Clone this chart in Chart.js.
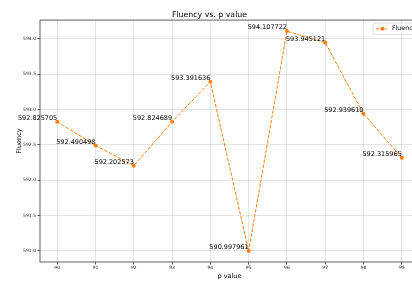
<!DOCTYPE html>
<html>
<head>
<meta charset="utf-8">
<script src="https://cdn.jsdelivr.net/npm/chart.js@4/dist/chart.umd.min.js"></script>
<style>
  html, body { margin: 0; padding: 0; background: #fff; overflow: hidden; }
  #wrap { width: 412px; height: 283px; overflow: hidden; position: relative; }
  canvas { display: block; }
</style>
</head>
<body>
<div id="wrap"><canvas id="fluencyChart" width="459" height="283" style="width:459px;height:283px"></canvas></div>
<script>
// Chart data
const pValues = [90, 91, 92, 93, 94, 95, 96, 97, 98, 99];
const fluency = [592.825705, 592.490498, 592.202573, 592.824689, 593.391636,
                 590.997961, 594.107722, 593.945121, 592.939610, 592.315965];
const xTickValues = [90, 91, 92, 93, 94, 95, 96, 97, 98, 99];
const yTickValues = [591.0, 591.5, 592.0, 592.5, 593.0, 593.5, 594.0];
const seriesName = "Fluency";

const ORANGE = '#ff7f0e';
const FONT = "'DejaVu Sans', sans-serif";

// matplotlib-style 5% margins
const xSpan = Math.max(...pValues) - Math.min(...pValues);
const ySpan = Math.max(...fluency) - Math.min(...fluency);

// Frame around the plot area (all four spines)
const framePlugin = {
    id: 'frame',
    afterDatasetsDraw(chart) {
        const { ctx, chartArea: a } = chart;
        ctx.save();
        ctx.strokeStyle = '#3a3a3a';
        ctx.lineWidth = 0.8;
        ctx.strokeRect(a.left, a.top, a.right - a.left, a.bottom - a.top);
        ctx.restore();
    }
};

// Value labels next to each point
const valueLabels = {
    id: 'valueLabels',
    afterDatasetsDraw(chart) {
        const { ctx } = chart;
        const meta = chart.getDatasetMeta(0);
        ctx.save();
        ctx.font = `6.5px ${FONT}`;
        ctx.fillStyle = '#000';
        ctx.textAlign = 'right';
        ctx.textBaseline = 'bottom';
        meta.data.forEach((pt, i) => {
            ctx.fillText(fluency[i].toFixed(6), pt.x, pt.y);
        });
        ctx.restore();
    }
};

// matplotlib-like legend box in the upper right of the axes
const boxLegend = {
    id: 'boxLegend',
    afterDraw(chart) {
        const { ctx, chartArea: a } = chart;
        ctx.save();
        ctx.font = `6.3px ${FONT}`;
        const tw = ctx.measureText(seriesName).width;
        const w = tw + 22, h = 11.5;
        const x = a.right - 46, y = a.top + 3;
        ctx.fillStyle = 'rgba(255,255,255,0.8)';
        ctx.strokeStyle = '#d6d6d6';
        ctx.lineWidth = 0.8;
        ctx.beginPath();
        ctx.roundRect(x, y, w, h, 2);
        ctx.fill();
        ctx.stroke();
        const cy = y + h / 2;
        ctx.strokeStyle = ORANGE;
        ctx.lineWidth = 1;
        ctx.setLineDash([3, 1.5]);
        ctx.beginPath();
        ctx.moveTo(x + 3, cy);
        ctx.lineTo(x + 14, cy);
        ctx.stroke();
        ctx.setLineDash([]);
        ctx.fillStyle = ORANGE;
        ctx.beginPath();
        ctx.arc(x + 9.5, cy, 2, 0, Math.PI * 2);
        ctx.fill();
        ctx.fillStyle = '#000';
        ctx.textBaseline = 'middle';
        ctx.fillText(seriesName, x + 19, cy);
        ctx.restore();
    }
};

const gridOpts = {
    color: 'rgba(0,0,0,0.13)',
    lineWidth: 0.8,
    borderDash: [1, 1.3],
    drawTicks: true,
    tickLength: 2.5,
    tickColor: '#3a3a3a',
    tickBorderDash: [],
    tickWidth: 0.8
};

new Chart(document.getElementById('fluencyChart'), {
    type: 'line',
    data: {
        datasets: [{
            label: seriesName,
            data: pValues.map((p, i) => ({ x: p, y: fluency[i] })),
            borderColor: ORANGE,
            backgroundColor: ORANGE,
            borderWidth: 1,
            borderDash: [3.5, 1.5],
            pointRadius: 2,
            pointBorderWidth: 0,
            pointBackgroundColor: ORANGE,
            tension: 0,
            fill: false
        }]
    },
    options: {
        responsive: false,
        animation: false,
        devicePixelRatio: 1,
        layout: { padding: { left: 0, right: 40, top: 0, bottom: 0 } },
        plugins: {
            legend: { display: false },
            tooltip: { enabled: false },
            title: {
                display: true,
                text: 'Fluency vs. p value',
                color: '#000',
                font: { family: FONT, size: 7.8, weight: 'normal', lineHeight: 1.2 },
                padding: { top: 10.5, bottom: 0.2 }
            }
        },
        scales: {
            x: {
                type: 'linear',
                min: Math.min(...pValues) - 0.05 * xSpan,
                max: Math.max(...pValues) + 0.05 * xSpan,
                afterBuildTicks: s => { s.ticks = xTickValues.map(v => ({ value: v })); },
                afterFit: s => { s.height = 21; },
                grid: gridOpts,
                border: { display: false },
                ticks: {
                    color: '#222',
                    font: { family: FONT, size: 4.5 },
                    padding: 0.5,
                    maxRotation: 0,
                    autoSkip: false,
                    callback: v => String(v)
                },
                title: {
                    display: true,
                    text: 'p value',
                    color: '#000',
                    font: { family: FONT, size: 6.5, lineHeight: 1.2 },
                    padding: { top: 0, bottom: 3.1 }
                }
            },
            y: {
                type: 'linear',
                min: Math.min(...fluency) - 0.05 * ySpan,
                max: Math.max(...fluency) + 0.05 * ySpan,
                afterBuildTicks: s => { s.ticks = yTickValues.map(v => ({ value: v })); },
                afterFit: s => { s.width = 40; },
                grid: gridOpts,
                border: { display: false },
                ticks: {
                    color: '#222',
                    font: { family: FONT, size: 4.5 },
                    padding: 1.5,
                    autoSkip: false,
                    callback: v => v.toFixed(1)
                },
                title: {
                    display: true,
                    text: 'Fluency',
                    color: '#000',
                    font: { family: FONT, size: 6.5, lineHeight: 1.2 },
                    padding: { top: 15, bottom: 0 }
                }
            }
        }
    },
    plugins: [framePlugin, valueLabels, boxLegend]
});
</script>
</body>
</html>
